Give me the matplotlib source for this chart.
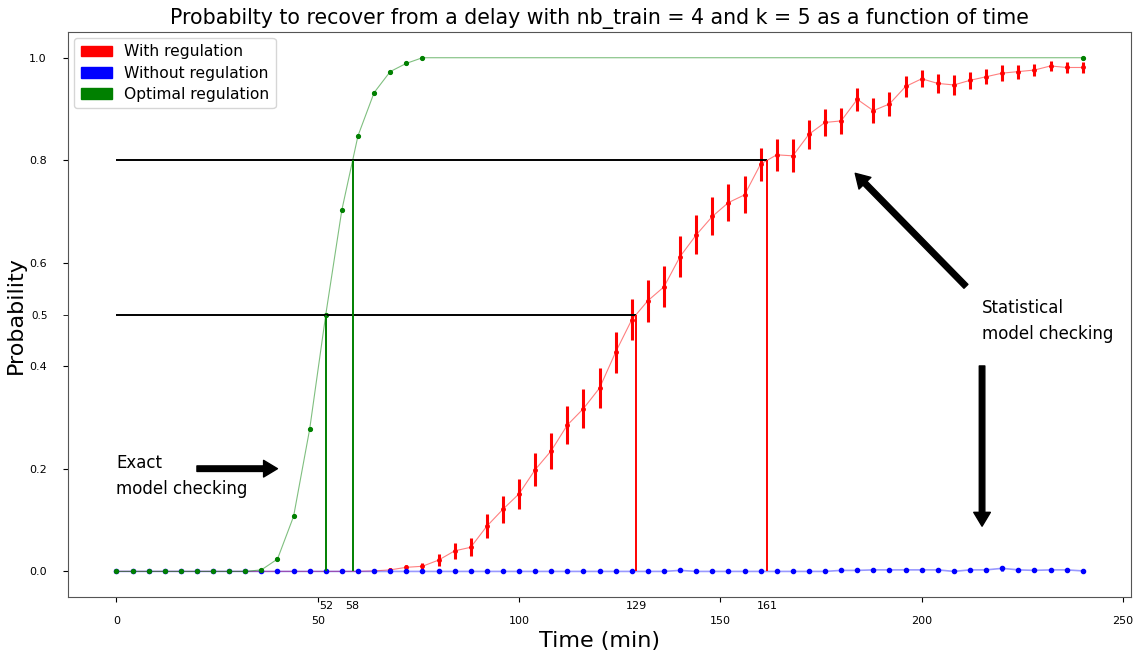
import matplotlib
matplotlib.use("Agg")
import matplotlib.pyplot as plt
import matplotlib.patches as mpatches
import numpy as np

# time axis (min)
times = list(range(0, 244, 4))

# with regulation (statistical model checking) + 95% error
reg_prob = [0.0] * 15 + [
    0.0, 0.001, 0.003, 0.008, 0.010, 0.022, 0.040, 0.047, 0.088, 0.121,
    0.151, 0.198, 0.235, 0.285, 0.317, 0.357, 0.427, 0.490, 0.527, 0.554,
    0.613, 0.655, 0.691, 0.718, 0.733, 0.793, 0.811, 0.809, 0.851, 0.874,
    0.877, 0.919, 0.897, 0.910, 0.944, 0.959, 0.950, 0.947, 0.956, 0.963,
    0.970, 0.973, 0.976, 0.984, 0.981, 0.981]
reg_err = [0.0] * 15 + [
    0.0, 0.002, 0.003, 0.005, 0.0065, 0.011, 0.016, 0.0175, 0.023, 0.026,
    0.029, 0.032, 0.035, 0.037, 0.038, 0.039, 0.040, 0.040, 0.0405, 0.040,
    0.039, 0.038, 0.037, 0.036, 0.036, 0.032, 0.031, 0.032, 0.028, 0.026,
    0.026, 0.022, 0.025, 0.024, 0.0195, 0.0165, 0.018, 0.019, 0.016, 0.0145,
    0.015, 0.0135, 0.012, 0.010, 0.011, 0.011]

# without regulation
noreg_prob = [0.0] * 35 + [0.002] + [0.0] * 9 + [
    0.002, 0.002, 0.003, 0.003, 0.003, 0.003, 0.003, 0.0, 0.003, 0.003,
    0.006, 0.003, 0.002, 0.003, 0.003, 0.001]
noreg_err = [0.0] * 35 + [0.002] + [0.0] * 9 + [
    0.002, 0.002, 0.003, 0.003, 0.003, 0.003, 0.003, 0.0, 0.003, 0.003,
    0.005, 0.003, 0.002, 0.003, 0.003, 0.001]

# optimal regulation (exact model checking)
opt_times = list(range(0, 80, 4)) + [240]
opt_prob = [0.0] * 9 + [0.003, 0.024, 0.107, 0.277, 0.5, 0.704, 0.848,
                        0.932, 0.973, 0.989, 1.0, 1.0]

thresholds = [0.5, 0.8]


def first_crossing(t, p, level):
    for i in range(1, len(p)):
        if p[i - 1] < level <= p[i]:
            return t[i - 1] + (level - p[i - 1]) * (t[i] - t[i - 1]) / (p[i] - p[i - 1])
    return None


fig = plt.figure(figsize=(11.35, 6.54), dpi=100)
ax = fig.add_axes([0.06, 0.087, 0.9365, 0.864])

# with regulation
ax.errorbar(times, reg_prob, yerr=reg_err, fmt='none', ecolor='red', elinewidth=2.2)
ax.plot(times, reg_prob, '-', color='red', lw=0.8, alpha=0.5)
ax.plot(times, reg_prob, '.', color='red', ms=5)

# without regulation
ax.errorbar(times, noreg_prob, yerr=noreg_err, fmt='none', ecolor='blue', elinewidth=2.2)
ax.plot(times, noreg_prob, '-', color='blue', lw=1.2, alpha=0.4)
ax.plot(times, noreg_prob, '.', color='blue', ms=6)

# optimal regulation
ax.plot(opt_times, opt_prob, '-', color='green', lw=0.8, alpha=0.5)
ax.plot(opt_times, opt_prob, '.', color='green', ms=5.5)

cross_ticks = []
for lvl in thresholds:
    t_opt = first_crossing(opt_times, opt_prob, lvl)
    t_reg = first_crossing(times, reg_prob, lvl)
    ax.hlines(lvl, 0, t_reg, color='black', lw=1.4)
    ax.vlines(t_opt, 0, lvl, color='green', lw=1.4)
    ax.vlines(t_reg, 0, lvl, color='red', lw=1.4)
    cross_ticks += [t_opt, t_reg]

cross_ticks.sort()
ax.set_xticks([0, 50, 100, 150, 200, 250])
ax.set_xticks(cross_ticks, minor=True)
ax.set_xticklabels([str(int(c)) for c in cross_ticks], minor=True)
ax.tick_params(axis='x', which='major', labelsize=8, pad=10)
ax.tick_params(axis='x', which='minor', labelsize=8, length=0, pad=3)

ax.set_yticks([0.0, 0.2, 0.4, 0.6, 0.8, 1.0])
ax.set_yticks([0.5], minor=True)
ax.set_yticklabels(['0.5'], minor=True)
ax.tick_params(axis='y', which='major', labelsize=8, pad=12)
ax.tick_params(axis='y', which='minor', labelsize=7.5, length=3.5, pad=11)

ax.set_xlim(-12, 252)
ax.set_ylim(-0.05, 1.05)

ax.set_title("Probabilty to recover from a delay with nb_train = 4 and k = 5 as a function of time",
             fontsize=14.8)
ax.set_xlabel("Time (min)", fontsize=16)
ax.set_ylabel("Probability", fontsize=16, labelpad=2)

for s in ax.spines.values():
    s.set_color('#555555')

# annotations
arrow = dict(facecolor='black', edgecolor='black', width=4, headwidth=12, headlength=10, shrink=0)
ax.text(0, 0.228, "Exact\nmodel checking", fontsize=12, linespacing=1.55, va='top')
ax.annotate("", xy=(40, 0.2), xytext=(20, 0.2), arrowprops=arrow)
ax.text(215, 0.53, "Statistical\nmodel checking", fontsize=12, linespacing=1.55, va='top')
ax.annotate("", xy=(183.5, 0.775), xytext=(211, 0.555), arrowprops=arrow)
ax.annotate("", xy=(215, 0.088), xytext=(215, 0.4), arrowprops=arrow)

handles = [mpatches.Patch(color='red', label='With regulation'),
           mpatches.Patch(color='blue', label='Without regulation'),
           mpatches.Patch(color='green', label='Optimal regulation')]
ax.legend(handles=handles, loc='upper left', fontsize=11.2, labelspacing=0.4,
          borderaxespad=0.4)

plt.savefig("out.png", dpi=100)
